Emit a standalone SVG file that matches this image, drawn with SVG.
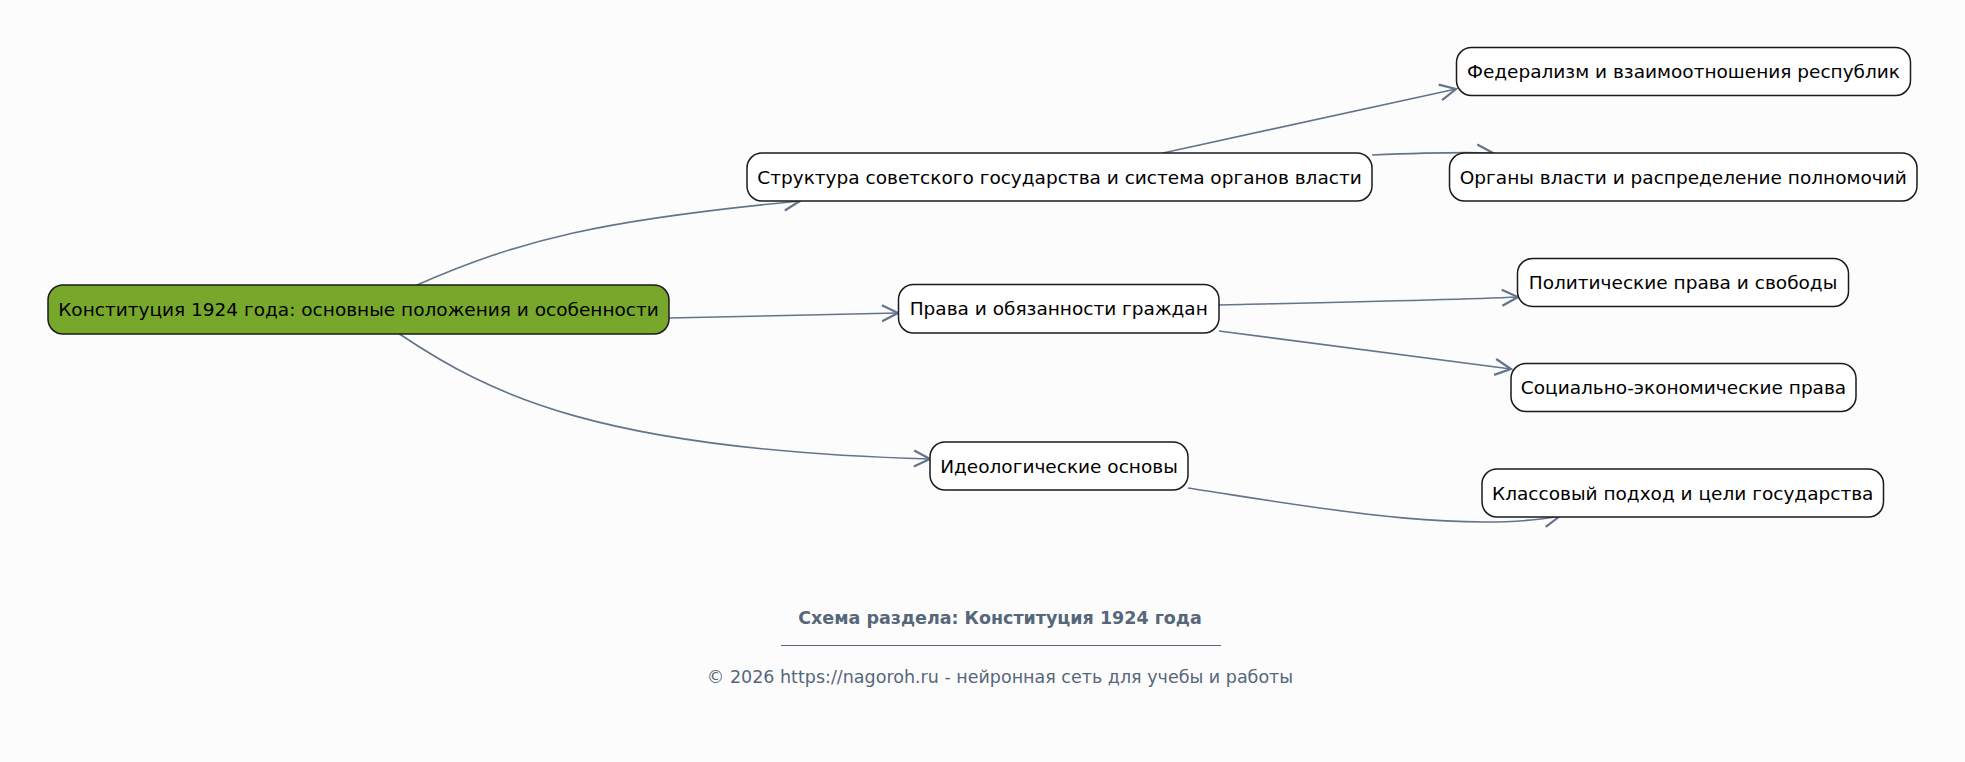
<svg xmlns="http://www.w3.org/2000/svg" width="1965" height="762" viewBox="0 0 1965 762">
<style>
.bg{fill:#fcfcfc}
.node rect{fill:#ffffff;stroke:#1a1a1a;stroke-width:1.5}
.root rect{fill:#78a82b}
.node text{font-family:"DejaVu Sans",sans-serif;font-size:18.5px;fill:#000;text-anchor:middle;dominant-baseline:central}
.edges path{fill:none;stroke:#64748b;stroke-width:1.6}
.title{font-family:"DejaVu Sans",sans-serif;font-size:17.5px;font-weight:bold;fill:#56677a;text-anchor:middle}
.copy{font-family:"DejaVu Sans",sans-serif;font-size:17.5px;fill:#56677a;text-anchor:middle}
</style>
<defs>
<marker id="arr" markerUnits="userSpaceOnUse" markerWidth="20" markerHeight="20" viewBox="0 0 20 20" refX="18" refY="10" orient="auto">
<path d="M2,2 L18,10 L2,18" fill="none" stroke="#64748b" stroke-width="2.2"/>
</marker>
</defs>
<rect class="bg" x="0" y="0" width="1965" height="762"/>
<g class="edges">
<path d="M417,285 C520,240 600,220 800,201" marker-end="url(#arr)"/>
<path d="M669,318 C760,316 830,314 898,313" marker-end="url(#arr)"/>
<path d="M398,333 C490,395 600,450 930,459" marker-end="url(#arr)"/>
<path d="M1163,153 L1456,89" marker-end="url(#arr)"/>
<path d="M1372,155 C1420,153 1460,152 1493,153" marker-end="url(#arr)"/>
<path d="M1219,305 C1350,302 1450,300 1518,297" marker-end="url(#arr)"/>
<path d="M1219,331 L1511,369" marker-end="url(#arr)"/>
<path d="M1188,488 C1300,505 1460,535 1560,516" marker-end="url(#arr)"/>
</g>
<g id="root" class="node root"><rect x="48" y="285" width="621" height="49" rx="15"/><text x="358.5" y="309.5">Конституция 1924 года: основные положения и особенности</text></g>
<g id="n-struct" class="node"><rect x="747" y="153" width="625" height="48" rx="15"/><text x="1059.5" y="177">Структура советского государства и система органов власти</text></g>
<g id="n-rights" class="node"><rect x="898.5" y="284.5" width="320.5" height="48.5" rx="15"/><text x="1058.75" y="308.75">Права и обязанности граждан</text></g>
<g id="n-ideo" class="node"><rect x="930" y="442" width="258" height="48" rx="15"/><text x="1059" y="466">Идеологические основы</text></g>
<g id="n-fed" class="node"><rect x="1456.5" y="47.5" width="454" height="48" rx="15"/><text x="1683.5" y="71.5">Федерализм и взаимоотношения республик</text></g>
<g id="n-organs" class="node"><rect x="1449.5" y="153" width="467.5" height="48" rx="15"/><text x="1683.25" y="177">Органы власти и распределение полномочий</text></g>
<g id="n-polit" class="node"><rect x="1517.5" y="258.5" width="331" height="48" rx="15"/><text x="1683" y="282.5">Политические права и свободы</text></g>
<g id="n-social" class="node"><rect x="1511" y="363.5" width="345" height="48" rx="15"/><text x="1683.5" y="387.5">Социально-экономические права</text></g>
<g id="n-class" class="node"><rect x="1482" y="469" width="401.5" height="48" rx="15"/><text x="1682.75" y="493">Классовый подход и цели государства</text></g>
<g id="footer">
<text class="title" x="1000" y="624">Схема раздела: Конституция 1924 года</text>
<line x1="781" y1="645.5" x2="1221" y2="645.5" stroke="#56677a" stroke-width="1"/>
<text class="copy" x="1000" y="683">© 2026 https://nagoroh.ru - нейронная сеть для учебы и работы</text>
</g>
</svg>
